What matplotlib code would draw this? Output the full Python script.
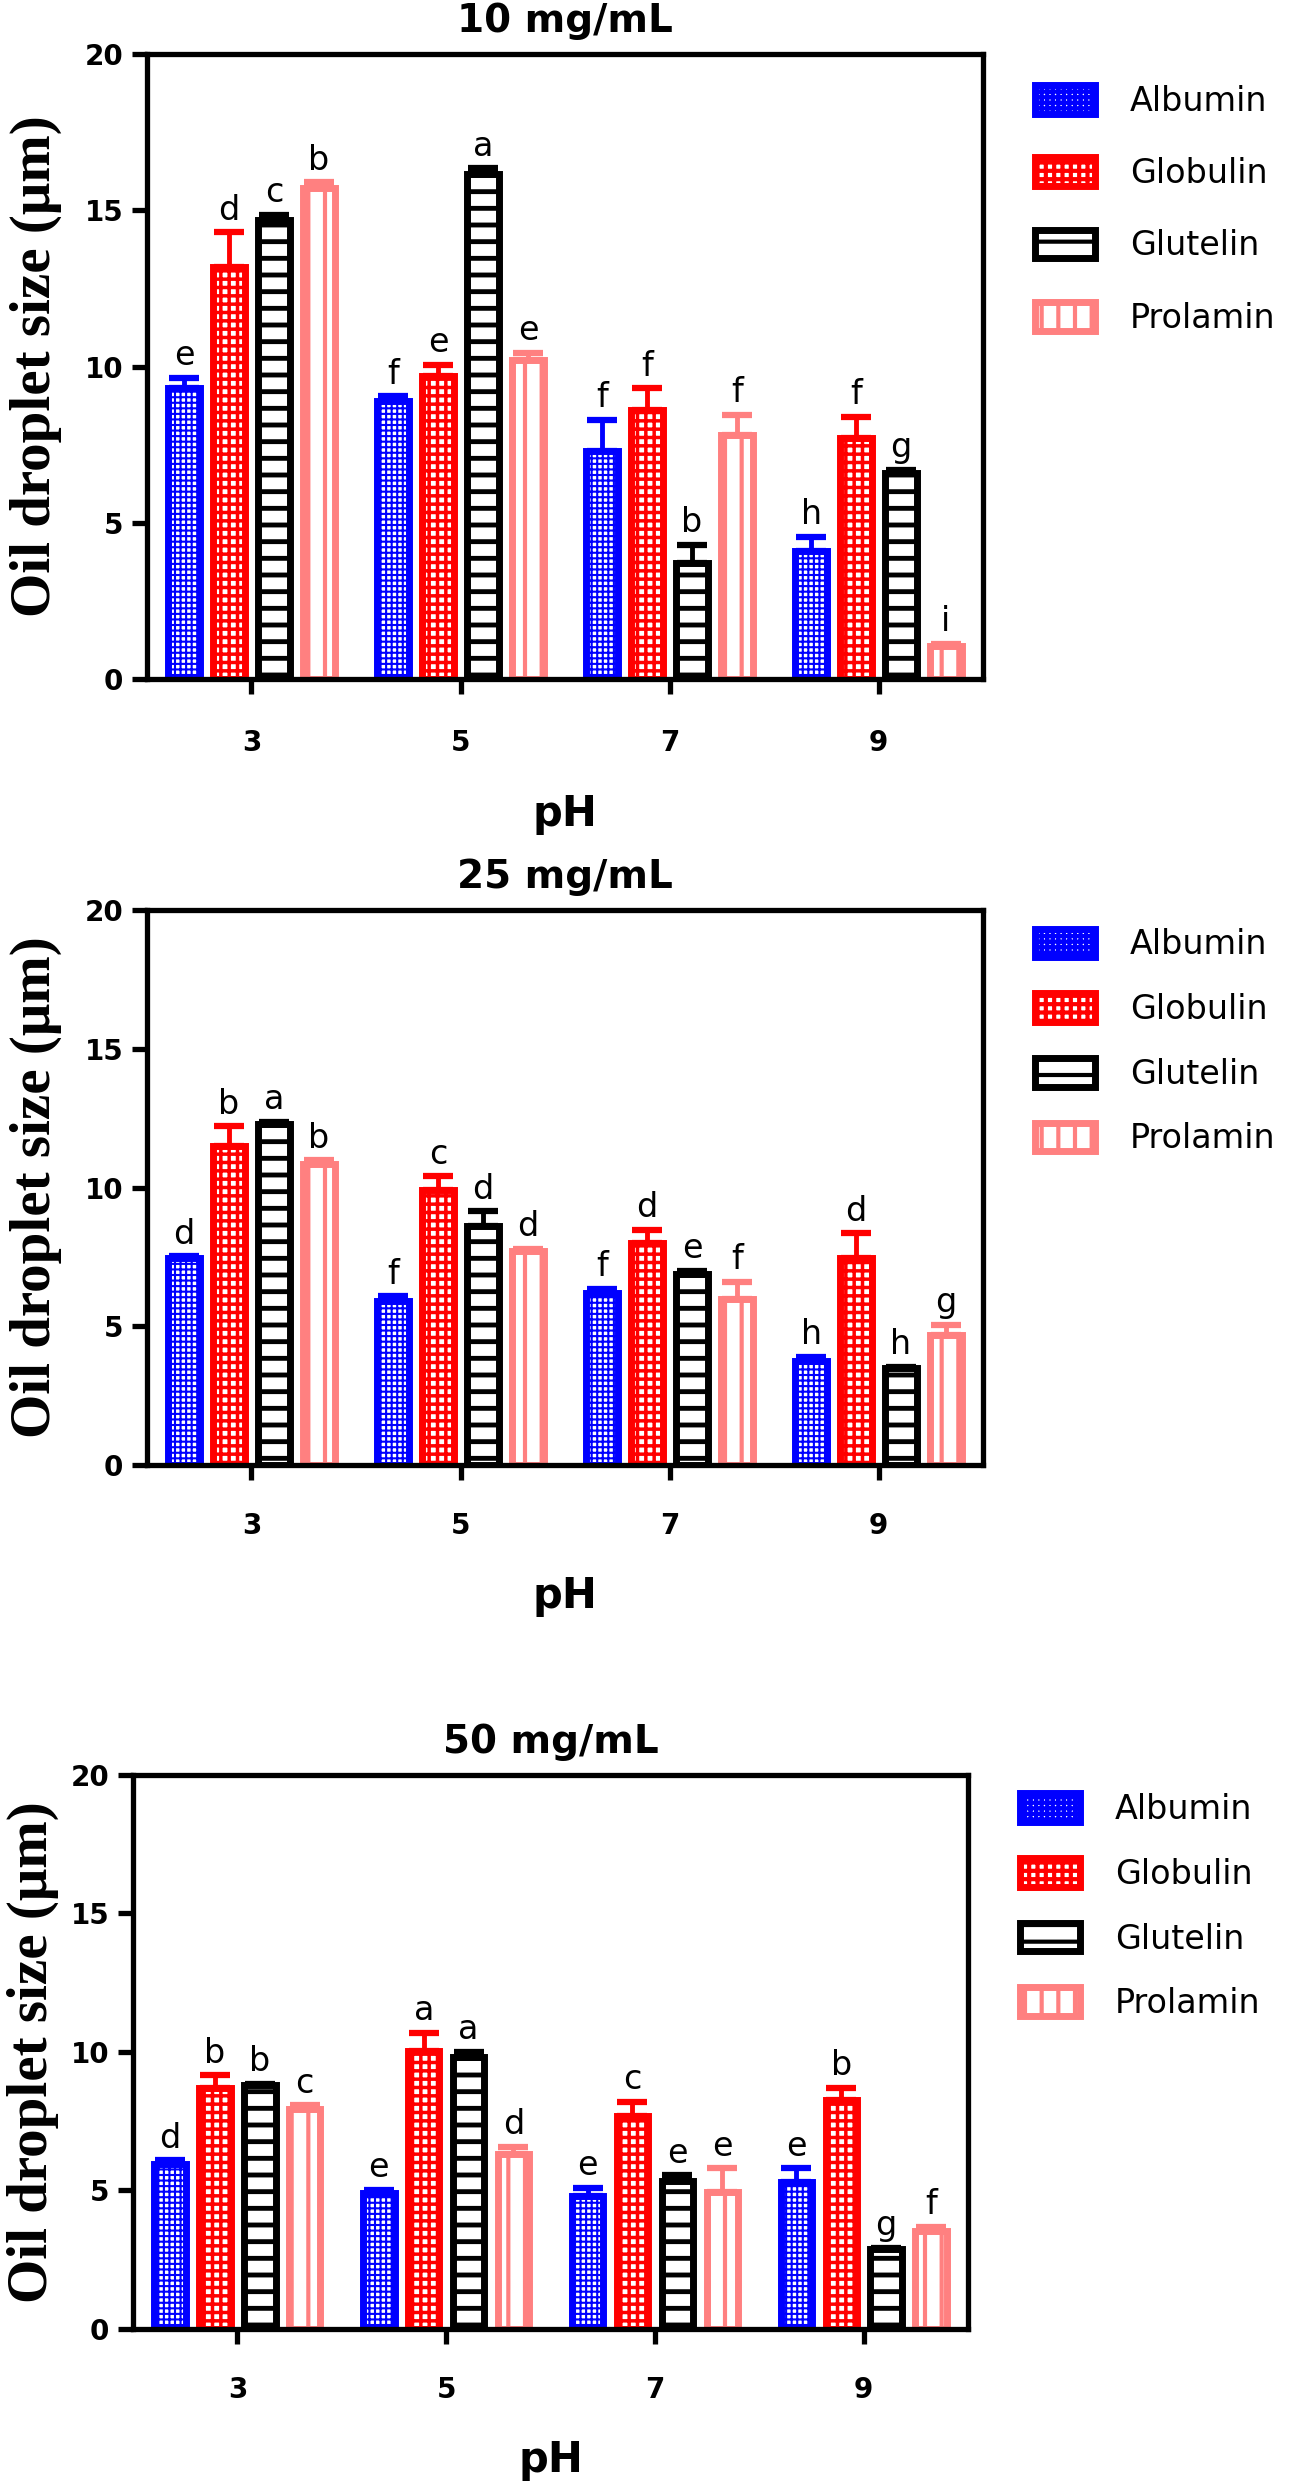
import matplotlib.pyplot as plt
import numpy as np

ph_labels = ['3', '5', '7', '9']
proteins = ['Albumin', 'Globulin', 'Glutelin', 'Prolamin']
colors = ['#0000FF', '#FF0000', '#000000', '#FF8080']
hatches = ['+++', '++', '-', '|']
hatch_widths = [1.5, 2.5, 3.5, 3.0]

titles = ['10 mg/mL', '25 mg/mL', '50 mg/mL']

# mean droplet size, one row per protein, columns pH 3, 5, 7, 9
size_10 = [[9.3, 8.9, 7.3, 4.1],
           [13.2, 9.7, 8.6, 7.7],
           [14.7, 16.15, 3.7, 6.6],
           [15.7, 10.2, 7.8, 1.05]]
err_10 = [[0.35, 0.15, 1.0, 0.45],
          [1.1, 0.35, 0.7, 0.7],
          [0.15, 0.2, 0.6, 0.1],
          [0.2, 0.25, 0.65, 0.07]]
letters_10 = [['e', 'f', 'f', 'h'],
              ['d', 'e', 'f', 'f'],
              ['c', 'a', 'b', 'g'],
              ['b', 'e', 'f', 'i']]

size_25 = [[7.45, 5.9, 6.2, 3.75],
           [11.5, 9.9, 8.0, 7.45],
           [12.3, 8.6, 6.9, 3.5],
           [10.85, 7.7, 6.0, 4.7]]
err_25 = [[0.08, 0.18, 0.15, 0.15],
          [0.7, 0.5, 0.48, 0.9],
          [0.07, 0.55, 0.1, 0.05],
          [0.13, 0.1, 0.6, 0.35]]
letters_25 = [['d', 'f', 'f', 'h'],
              ['b', 'c', 'd', 'd'],
              ['a', 'd', 'e', 'h'],
              ['b', 'd', 'f', 'g']]

size_50 = [[5.95, 4.9, 4.8, 5.3],
           [8.7, 10.05, 7.7, 8.25],
           [8.8, 9.8, 5.35, 2.9],
           [7.95, 6.3, 4.95, 3.55]]
err_50 = [[0.13, 0.13, 0.3, 0.5],
          [0.45, 0.65, 0.5, 0.45],
          [0.05, 0.2, 0.2, 0.03],
          [0.12, 0.28, 0.85, 0.14]]
letters_50 = [['d', 'e', 'e', 'e'],
              ['b', 'a', 'c', 'b'],
              ['b', 'a', 'e', 'g'],
              ['c', 'd', 'e', 'f']]

panels = [(size_10, err_10, letters_10),
          (size_25, err_25, letters_25),
          (size_50, err_50, letters_50)]

plt.rcParams['hatch.linewidth'] = 3.0

fig = plt.figure(figsize=(13.02, 24.81), dpi=100)
axes_pos = [[0.1129, 0.7263, 0.6421, 0.2519],
            [0.1129, 0.4095, 0.6421, 0.2237],
            [0.1022, 0.0613, 0.6413, 0.2233]]
# the top panel is drawn a bit taller in the original, so its spacings are larger
legend_spacing = [1.18, 0.95, 0.95]
legend_top = [0.951, 0.967, 0.967]
tick_pad = [25, 23, 23]
xlabel_pad = [26, 25, 25]
ylabel_x = [-0.133, -0.133, -0.12]

x = np.arange(len(ph_labels))
offsets = [-0.3225, -0.1075, 0.1075, 0.3225]

for p, (sizes, errs, letters) in enumerate(panels):
    ax = fig.add_axes(axes_pos[p])
    for k in range(4):
        xs = x + offsets[k]
        bars = ax.bar(xs, sizes[k], width=0.15, facecolor='white', edgecolor=colors[k],
                      linewidth=5, hatch=hatches[k], label=proteins[k], zorder=2)
        for b in bars:
            if hasattr(b, 'set_hatch_linewidth'):
                b.set_hatch_linewidth(hatch_widths[k])
        ax.errorbar(xs, sizes[k], yerr=[np.zeros(4), errs[k]], fmt='none', ecolor=colors[k],
                    elinewidth=3.5, capsize=11, capthick=4.5, zorder=3)
        for xi, yi, ei, lab in zip(xs, sizes[k], errs[k], letters[k]):
            ax.annotate(lab, (xi, yi + ei), xytext=(0, 4), textcoords='offset points',
                        ha='center', va='bottom', fontsize=24)

    ax.set_xlim(-0.5, 3.5)
    ax.set_ylim(0, 20)
    ax.set_xticks(x)
    ax.set_xticklabels(ph_labels)
    ax.set_yticks([0, 5, 10, 15, 20])
    ax.tick_params(axis='x', direction='out', length=11, width=3.8, labelsize=20,
                   pad=tick_pad[p])
    ax.tick_params(axis='y', direction='out', length=11, width=3.8, labelsize=20, pad=6)
    for lbl in ax.get_xticklabels() + ax.get_yticklabels():
        lbl.set_fontweight('bold')
    for s in ax.spines.values():
        s.set_linewidth(3.8)

    ax.set_title(titles[p], fontsize=28, fontweight='bold', pad=16)
    ax.set_xlabel('pH', fontsize=30, fontweight='bold', labelpad=xlabel_pad[p])
    ax.set_ylabel('Oil droplet size (μm)', fontsize=41, fontweight='bold',
                  fontfamily='Liberation Serif')
    ax.yaxis.set_label_coords(ylabel_x[p], 0.5)
    ax.yaxis.label.set_va('center')

    ax.legend(loc='upper left', bbox_to_anchor=(1.062, legend_top[p]), frameon=False,
              fontsize=24, handlelength=1.8, handleheight=0.95,
              labelspacing=legend_spacing[p], handletextpad=1.05,
              borderpad=0, borderaxespad=0)

plt.savefig('out.png', dpi=100)
plt.close()
